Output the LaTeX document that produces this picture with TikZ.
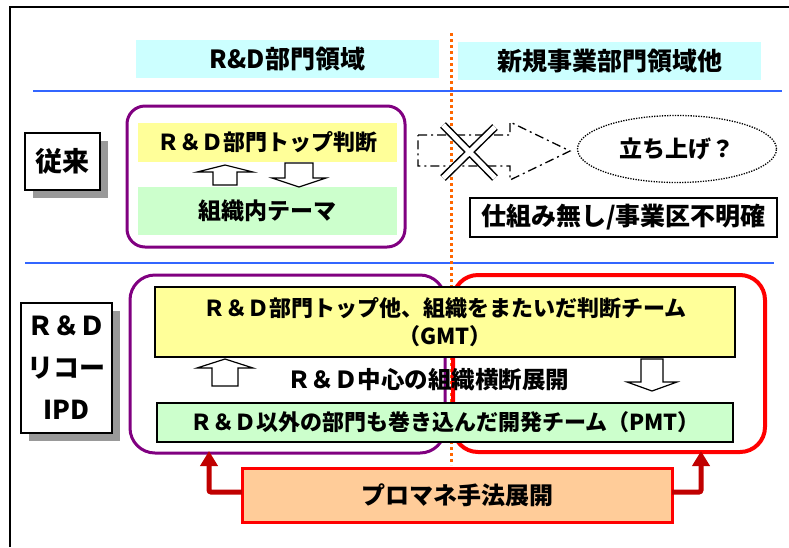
\documentclass[tikz,border=0pt]{standalone}
\usepackage{fontspec}
\setmainfont{Noto Sans CJK JP}
\usetikzlibrary{arrows.meta,shapes.geometric}
\definecolor{hdrcyan}{HTML}{CCFFFF}
\definecolor{boxyellow}{HTML}{FFFF99}
\definecolor{boxgreen}{HTML}{CCFFCC}
\definecolor{purp}{HTML}{800080}
\definecolor{brightred}{HTML}{FF0000}
\definecolor{darkred}{HTML}{C00000}
\definecolor{peach}{HTML}{FFCC99}
\definecolor{dotorange}{HTML}{FF6600}
\definecolor{lineblue}{HTML}{3366FF}
\definecolor{shadowgray}{HTML}{999999}
\tikzset{
  fs/.style={font={\fontsize{#1}{#1}\selectfont\bfseries}},
  plain/.style={inner sep=0pt, outer sep=0pt, align=center},
  hdr/.style={plain, fill=hdrcyan, fs=25},
  sbox/.style={plain, draw=black, line width=1.5pt, fill=white},
  shadowbox/.style={plain, fill=shadowgray},
  blockarrow/.style={draw=black, line width=1.2pt, fill=white, line join=miter},
  rarrow/.style={draw=darkred, line width=5pt, rounded corners=2pt, -{Triangle[width=17pt,length=15pt]}},
}
\begin{document}
\begin{tikzpicture}[x=1pt,y=-1pt]
\useasboundingbox (0,0) rectangle (789,547);
% frame
\draw[line width=2.5pt] (10,547) -- (10,7) -- (789,7);
% headers
\node[hdr, minimum width=303pt, minimum height=38pt] (hL) at (287.5,59) {R\&D部門領域};
\node[hdr, minimum width=303pt, minimum height=38pt] (hR) at (609.5,61) {新規事業部門領域他};
% separators
\draw[lineblue, line width=2.5pt] (33,91) -- (782,91);
\draw[lineblue, line width=2.5pt] (25,263) -- (774,263);
\draw[dotorange, line width=3pt, dash pattern=on 3pt off 3pt] (451,33) -- (451,465);

% ===== top section =====
\node[shadowbox, minimum width=75pt, minimum height=57pt] at (70.5,169.5) {};
\node[sbox, minimum width=75pt, minimum height=57pt, fs=27] (old) at (62.5,161.5) {従来};
\node[plain, draw=purp, line width=3pt, rounded corners=18pt, minimum width=278pt, minimum height=141pt] (oldL) at (266,176.5) {};
\node[plain, fill=boxyellow, minimum width=259pt, minimum height=39pt, fs=22] (top) at (267.5,142.5) {Ｒ＆Ｄ部門トップ判断};
\node[plain, fill=boxgreen, minimum width=259pt, minimum height=48pt, fs=23] (theme) at (267.5,211) {組織内テーマ};
% hollow arrows
\draw[blockarrow] (225,165) -- (253,172) -- (237,172) -- (237,185) -- (213,185) -- (213,172) -- (197,172) -- cycle;
\draw[blockarrow] (299,187) -- (326,178) -- (313,178) -- (313,163) -- (285,163) -- (285,178) -- (272,178) -- cycle;
% crossed-out dash-dot arrow
\draw[black, line width=1.3pt, dash pattern=on 9pt off 4pt on 2pt off 4pt]
  (418,135) -- (510,135) -- (510,122) -- (570,151) -- (510,180) -- (510,166) -- (418,166) -- cycle;
\draw[black, line width=8pt] (443,125) -- (495,178) (495,127) -- (443,178);
\draw[white, line width=5pt] (443,125) -- (495,178) (495,127) -- (443,178);
\node[ellipse, draw=black, line width=1.3pt, dash pattern=on 1.3pt off 1.3pt, minimum width=199pt, minimum height=67pt, inner sep=0pt, fs=23] (up) at (677,149) {立ち上げ？};
\node[sbox, minimum width=307pt, minimum height=39pt, fs=25] (none) at (623.5,217.5) {仕組み無し/事業区不明確};

% ===== bottom section =====
\node[shadowbox, minimum width=91pt, minimum height=130pt] at (74.5,376) {};
\node[sbox, minimum width=91pt, minimum height=130pt, font={\fontsize{26}{42}\selectfont\bfseries}] (ipd) at (66.5,368) {Ｒ＆Ｄ\\リコー\\IPD};
\node[plain, draw=purp, line width=3pt, rounded corners=25pt, minimum width=315pt, minimum height=178pt] (ipdL) at (287.5,364) {};
\node[plain, draw=brightred, line width=4pt, rounded corners=25pt, minimum width=312pt, minimum height=177pt] (ipdR) at (609,363.5) {};
\node[plain, draw=black, line width=2pt, fill=boxyellow, minimum width=580pt, minimum height=70pt, font={\fontsize{22}{28}\selectfont\bfseries}] (gmt) at (445,322) {Ｒ＆Ｄ部門トップ他、組織をまたいだ判断チーム\\（GMT）};
\draw[blockarrow] (225,359) -- (253,368) -- (238,368) -- (238,386) -- (212,386) -- (212,368) -- (197,368) -- cycle;
\node[plain, fs=23.5] (cross) at (428,380) {Ｒ＆Ｄ中心の組織横断展開};
\draw[blockarrow] (652,391) -- (677,382) -- (663,382) -- (663,359) -- (641,359) -- (641,382) -- (627,382) -- cycle;
\node[plain, draw=black, line width=2pt, fill=boxgreen, minimum width=576pt, minimum height=39pt, fs=22] (pmt) at (445,422.5) {Ｒ＆Ｄ以外の部門も巻き込んだ開発チーム（PMT）};
\node[plain, draw=brightred, line width=3pt, fill=peach, minimum width=430pt, minimum height=54pt, fs=24] (pm) at (457,495) {プロマネ手法展開};
\coordinate (aL) at (209,451);
\coordinate (aR) at (701,451);
\draw[rarrow] ([yshift=3pt]pm.west) -| (aL);
\draw[rarrow] ([yshift=3pt]pm.east) -| (aR);
\end{tikzpicture}
\end{document}
